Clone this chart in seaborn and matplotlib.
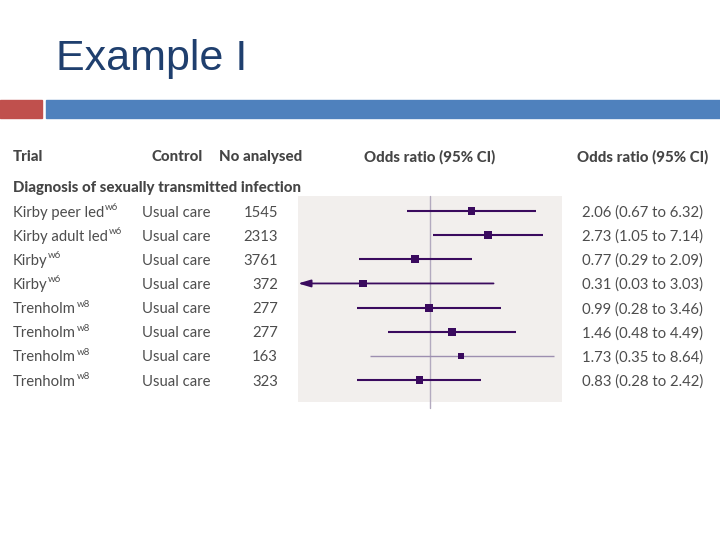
import matplotlib
matplotlib.use("Agg")
import matplotlib.pyplot as plt
import seaborn as sns
import pandas as pd
import numpy as np

# ---- data ----
trials = ["Kirby peer led", "Kirby adult led", "Kirby", "Kirby",
          "Trenholm", "Trenholm", "Trenholm", "Trenholm"]
refs = ["w6", "w6", "w6", "w6", "w8", "w8", "w8", "w8"]
controls = ["Usual care"] * 8
n_analysed = [1545, 2313, 3761, 372, 277, 277, 163, 323]
odds_ratio = [2.06, 2.73, 0.77, 0.31, 0.99, 1.46, 1.73, 0.83]
ci_low = [0.67, 1.05, 0.29, 0.03, 0.28, 0.48, 0.35, 0.28]
ci_high = [6.32, 7.14, 2.09, 3.03, 3.46, 4.49, 8.64, 2.42]
weight = [27, 33, 33, 28, 33, 33, 19, 27]
group_label = "Diagnosis of sexually transmitted infection"
headers = ["Trial", "Control", "No analysed", "Odds ratio (95% CI)", "Odds ratio (95% CI)"]

df = pd.DataFrame({"trial": trials, "or": odds_ratio, "lo": ci_low, "hi": ci_high,
                   "w": weight, "row": np.arange(len(trials))})

sns.set_theme(style="white")
plt.rcParams["font.family"] = ["Lato", "DejaVu Sans"]

W, H = 720, 540
fig = plt.figure(figsize=(7.2, 5.4), dpi=100)
fig.patch.set_facecolor("white")

def fx(px):
    return px / W

def fy(py):
    return 1 - py / H

# title + decorative bars
fig.text(fx(56), fy(59), "Example I", fontsize=31, color="#1F3F6E",
         family=["Liberation Sans", "DejaVu Sans"], va="center", ha="left")
fig.patches.append(plt.Rectangle((0, fy(118)), fx(42), (118 - 100) / H,
                                 transform=fig.transFigure, color="#C0504D", zorder=1))
fig.patches.append(plt.Rectangle((fx(46), fy(118)), 1 - fx(46), (118 - 100) / H,
                                 transform=fig.transFigure, color="#4F81BD", zorder=1))

# forest panel
top_px, bot_px = 196, 402
row0_px, row_step = 211, 24.15
ax = fig.add_axes([fx(298), fy(bot_px), fx(562 - 298), (bot_px - top_px) / H])
ax.set_facecolor("#F2EFED")
ax.set_xscale("log")
ylim_top = -(row0_px - top_px) / row_step
ylim_bot = (bot_px - row0_px) / row_step

ax.axvline(1, ymin=-0.03, ymax=1, color="#B3AABF", lw=1, zorder=1, clip_on=False)

purple = "#3A0A5E"
light = "#9D8FB0"
for i, r in df.iterrows():
    col = light if i == 6 else purple
    lw = 1.0 if i == 6 else 1.5
    if r["lo"] < 0.1:
        ax.annotate("", xy=(0.1, r["row"]), xytext=(r["hi"], r["row"]),
                    arrowprops=dict(arrowstyle="-|>,head_length=0.75,head_width=0.22",
                                    mutation_scale=10, color=col, lw=1.3,
                                    shrinkA=0, shrinkB=0),
                    zorder=2)
    else:
        ax.hlines(r["row"], r["lo"], r["hi"], color=col, lw=lw, zorder=2)

sns.scatterplot(data=df, x="or", y="row", size="w", sizes=(min(weight), max(weight)),
                size_norm=(min(weight), max(weight)),
                marker="s", color=purple, edgecolor="none", legend=False, ax=ax, zorder=3)
ax.set_xlabel("")
ax.set_ylabel("")
ax.set_xlim(0.1, 10)
ax.set_ylim(ylim_bot, ylim_top)
for s in ax.spines.values():
    s.set_visible(False)
ax.set_xticks([])
ax.set_yticks([])
ax.minorticks_off()
ax.tick_params(which="both", length=0)

# header
hdr_kw = dict(fontsize=10.8, color="#454545", weight="black",
              family=["Lato", "DejaVu Sans"], va="center")
fig.text(fx(13), fy(157), headers[0], ha="left", **hdr_kw)
fig.text(fx(151), fy(157), headers[1], ha="left", **hdr_kw)
fig.text(fx(219), fy(157), headers[2], ha="left", **hdr_kw)
fig.text(fx(430), fy(157), headers[3], ha="center", **hdr_kw)
fig.text(fx(708), fy(157), headers[4], ha="right", **hdr_kw)
fig.text(fx(13), fy(188), group_label, ha="left", **hdr_kw)

renderer = fig.canvas.get_renderer()
txt_kw = dict(fontsize=10.7, color="#4D4D4D", va="center")
for i in range(len(trials)):
    ypx = row0_px + 1.5 + i * row_step
    y = fy(ypx)
    t = fig.text(fx(13), y, trials[i], ha="left", **txt_kw)
    bb = t.get_window_extent(renderer)
    fig.text(bb.x1 / W + fx(0.5), fy(ypx - 5), refs[i], ha="left", fontsize=7,
             color="#4D4D4D", va="center")
    fig.text(fx(142), y, controls[i], ha="left", **txt_kw)
    fig.text(fx(278), y, f"{n_analysed[i]}", ha="right", **txt_kw)
    fig.text(fx(703), y, f"{odds_ratio[i]:.2f} ({ci_low[i]:.2f} to {ci_high[i]:.2f})",
             ha="right", **txt_kw)

fig.savefig("out.png", dpi=100, facecolor="white")
